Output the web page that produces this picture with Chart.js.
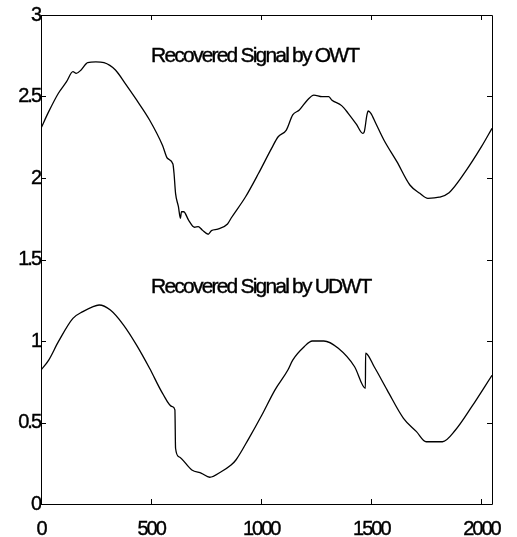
<!DOCTYPE html>
<html>
<head>
<meta charset="utf-8">
<script src="https://cdn.jsdelivr.net/npm/chart.js@4.4.1/dist/chart.umd.min.js"></script>
<style>
html,body{margin:0;padding:0;background:#fff;}
#wrap{width:517px;height:537px;position:relative;}
</style>
</head>
<body>
<div id="wrap"><canvas id="c"></canvas></div>
<script>
// ---- data ----
const owtX = [0,35,79,116,145,160,182,212,249,286,338,382,434,493,552,574,599,604,611,624,633,638,648,670,697,714,732,759,774,803,847,863,929,988,1047,1077,1114,1143,1173,1210,1239,1276,1306,1320,1365,1395,1432,1461,1468,1480,1486,1498,1520,1557,1616,1675,1720,1757,1808,1853,1927,2000,2048];
const owtY = [2.305,2.407,2.520,2.591,2.652,2.642,2.663,2.708,2.713,2.708,2.663,2.581,2.479,2.356,2.200,2.121,2.086,2.029,1.906,1.824,1.753,1.793,1.793,1.742,1.698,1.702,1.681,1.655,1.677,1.686,1.718,1.753,1.885,2.029,2.182,2.253,2.294,2.387,2.417,2.479,2.509,2.499,2.499,2.479,2.444,2.397,2.330,2.274,2.284,2.387,2.411,2.397,2.336,2.233,2.100,1.957,1.906,1.875,1.882,1.910,2.039,2.192,2.305];
const udwtX = [0,35,79,145,190,234,264,315,375,434,493,552,596,608,611,626,685,729,766,818,863,885,944,1003,1062,1121,1143,1195,1232,1284,1350,1424,1473,1474,1513,1572,1646,1705,1749,1823,1882,1956,2048];
const udwtY = [0.822,0.883,0.996,1.139,1.180,1.210,1.221,1.190,1.098,0.975,0.833,0.679,0.597,0.577,0.342,0.290,0.209,0.188,0.164,0.198,0.239,0.270,0.403,0.546,0.699,0.822,0.883,0.965,1.000,1.000,0.955,0.842,0.710,0.925,0.842,0.699,0.526,0.444,0.382,0.382,0.454,0.597,0.790];
const xTicks = [0,500,1000,1500,2000];
const yTicks = [0,0.5,1,1.5,2,2.5,3];
const labels = [
  {text:'Recovered Signal by OWT', x:500, y:2.75},
  {text:'Recovered Signal by UDWT', x:500, y:1.33}
];

const FONT = '"Liberation Sans", Arial, sans-serif';

const spacingPlugin = {
  id:'spacing',
  beforeDraw(chart){ chart.ctx.letterSpacing = '-2px'; }
};

const framePlugin = {
  id:'frame',
  afterDraw(chart){
    const ctx = chart.ctx, a = chart.chartArea;
    const xs = chart.scales.x, ys = chart.scales.y;
    ctx.save();
    ctx.strokeStyle = '#000';
    ctx.lineWidth = 1;
    ctx.beginPath();
    ctx.rect(Math.round(a.left)+0.5, Math.round(a.top)+0.5, Math.round(a.right-a.left), Math.round(a.bottom-a.top));
    const L = 5;
    xTicks.forEach(v=>{
      const px = Math.round(xs.getPixelForValue(v))+0.5;
      ctx.moveTo(px, a.bottom); ctx.lineTo(px, a.bottom-L);
      ctx.moveTo(px, a.top); ctx.lineTo(px, a.top+L);
    });
    yTicks.forEach(v=>{
      const py = Math.round(ys.getPixelForValue(v))+0.5;
      ctx.moveTo(a.left, py); ctx.lineTo(a.left+L, py);
      ctx.moveTo(a.right, py); ctx.lineTo(a.right-L, py);
    });
    ctx.stroke();
    // annotations
    ctx.fillStyle = '#000';
    ctx.strokeStyle = '#000';
    ctx.lineWidth = 0.4;
    ctx.font = '21px ' + FONT;
    ctx.letterSpacing = '-1.8px';
    ctx.textAlign = 'left';
    ctx.textBaseline = 'middle';
    labels.forEach(l=>{
      const px = xs.getPixelForValue(l.x), py = ys.getPixelForValue(l.y);
      ctx.fillText(l.text, px, py);
      ctx.strokeText(l.text, px, py);
    });
    ctx.restore();
  }
};

const toPts = (xa, ya) => xa.map((x,i)=>({x:x, y:ya[i]}));

new Chart(document.getElementById('c'), {
  type:'line',
  data:{
    datasets:[
      {data:toPts(owtX, owtY), borderColor:'#000', borderWidth:1.3, pointRadius:0, cubicInterpolationMode:'monotone', fill:false},
      {data:toPts(udwtX, udwtY), borderColor:'#000', borderWidth:1.3, pointRadius:0, cubicInterpolationMode:'monotone', fill:false}
    ]
  },
  options:{
    responsive:true,
    maintainAspectRatio:false,
    animation:false,
    events:[],
    layout:{padding:{top:15, right:13, left:0, bottom:0}},
    plugins:{legend:{display:false}, tooltip:{enabled:false}, title:{display:false}},
    scales:{
      x:{
        type:'linear', min:0, max:2048,
        afterBuildTicks(s){ s.ticks = xTicks.map(v=>({value:v})); },
        afterFit(s){ s.height = 33; },
        grid:{display:false, drawTicks:false},
        border:{display:false},
        ticks:{color:'#000', font:{family:FONT, size:20}, padding:13, maxRotation:0, autoSkip:false,
               textStrokeColor:'#000', textStrokeWidth:0.4,
               callback:(v)=>String(v)}
      },
      y:{
        type:'linear', min:0, max:3,
        afterBuildTicks(s){ s.ticks = yTicks.map(v=>({value:v})); },
        afterFit(s){ s.width = 41; },
        grid:{display:false, drawTicks:false},
        border:{display:false},
        ticks:{color:'#000', font:{family:FONT, size:20}, padding:1, autoSkip:false,
               textStrokeColor:'#000', textStrokeWidth:0.4,
               callback:(v)=>String(v)}
      }
    }
  },
  plugins:[spacingPlugin, framePlugin]
});
</script>
</body>
</html>
